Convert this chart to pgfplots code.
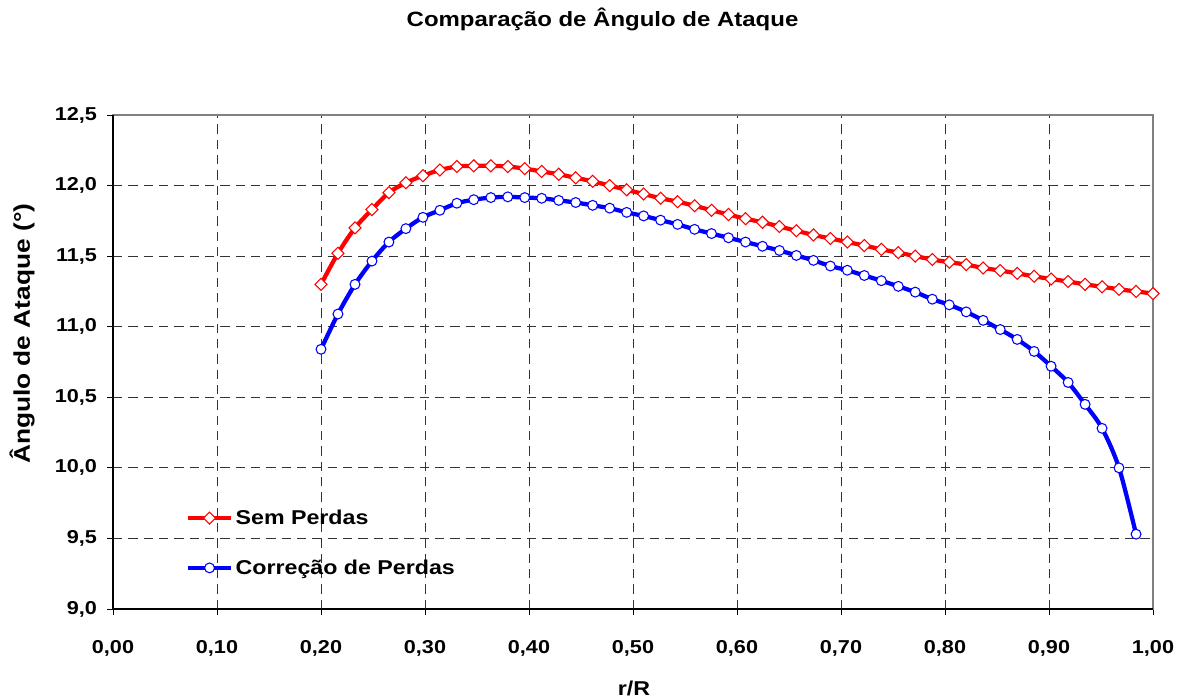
\documentclass[border=0pt]{standalone}
\usepackage{fontspec}
\setmainfont{Liberation Sans}[FakeStretch=1.16]
\usepackage{pgfplots}
\pgfplotsset{compat=1.18}
\definecolor{xred}{RGB}{255,0,0}
\definecolor{xblue}{RGB}{0,0,255}
\begin{document}
\begin{tikzpicture}
\useasboundingbox (0pt,0pt) rectangle (889.5pt,525pt);
\node[anchor=base, font=\bfseries\fontsize{15.5}{18}\selectfont] at (451.9pt,504.75pt) {Comparação de Ângulo de Ataque};
\begin{axis}[
  at={(84.75pt,68.25pt)}, anchor=south west,
  scale only axis, width=780pt, height=370.5pt,
  xmin=0, xmax=1, ymin=9, ymax=12.5,
  clip=false,
  xtick={0,0.1,0.2,0.3,0.4,0.5,0.6,0.7,0.8,0.9,1},
  ytick={9,9.5,10,10.5,11,11.5,12,12.5},
  tick pos=left,
  tick align=outside,
  major tick length=4.5pt,
  tick style={black, line width=0.6pt},
  grid=major,
  major grid style={black!80, line width=0.6pt, dash pattern=on 7pt off 4.5pt},
  axis line style={black!50, line width=0.9pt},
  /pgf/number format/assume math mode=true,
  xticklabel style={font=\bfseries\fontsize{14}{16}\selectfont, anchor=base, yshift=-28.5pt,
    /pgf/number format/.cd, fixed, fixed zerofill, precision=2, use comma},
  yticklabel style={font=\bfseries\fontsize{14}{16}\selectfont, anchor=east, xshift=-4pt,
    /pgf/number format/.cd, fixed, fixed zerofill, precision=1, use comma},
  xlabel={r/R},
  xlabel style={font=\bfseries\fontsize{15}{17}\selectfont, at={(axis description cs:0.501,-0.176)}, anchor=base},
  ylabel={Ângulo de Ataque (°)},
  ylabel style={font=\bfseries\fontsize{17}{19}\selectfont, at={(axis description cs:-0.0875,0.557)}, anchor=center},
  legend style={at={(axis description cs:0.070,0.1336)}, anchor=west, draw=none, fill=none,
    inner sep=0pt, row sep=25pt, font=\bfseries\fontsize{15}{17}\selectfont,
    nodes={inner xsep=2pt, inner ysep=0pt}},
  legend cell align=left,
  legend image code/.code={\draw[mark repeat=2,mark phase=2,#1] plot coordinates {(0pt,0pt)(16pt,0pt)(32pt,0pt)};},
]
\addplot[xred, line width=3.2pt, smooth, mark=square*, mark size=3.2pt,
  mark options={rotate=45, fill=white, draw=xred, line width=0.8pt, solid}] coordinates {
(0.2000,11.30) (0.2163,11.52) (0.2327,11.70) (0.2490,11.83) (0.2653,11.95) (0.2816,12.02) (0.2980,12.07) (0.3143,12.11) (0.3306,12.135) (0.3469,12.14) (0.3633,12.14) (0.3796,12.135) (0.3959,12.12) (0.4122,12.10) (0.4286,12.08) (0.4449,12.055) (0.4612,12.03) (0.4776,12.00) (0.4939,11.97) (0.5102,11.94) (0.5265,11.91) (0.5429,11.886) (0.5592,11.857) (0.5755,11.825) (0.5918,11.795) (0.6082,11.765) (0.6245,11.74) (0.6408,11.71) (0.6571,11.68) (0.6735,11.65) (0.6898,11.625) (0.7061,11.60) (0.7224,11.575) (0.7388,11.548) (0.7551,11.525) (0.7714,11.50) (0.7878,11.476) (0.8041,11.457) (0.8204,11.44) (0.8367,11.416) (0.8531,11.398) (0.8694,11.378) (0.8857,11.357) (0.9020,11.338) (0.9184,11.32) (0.9347,11.30) (0.9510,11.283) (0.9673,11.265) (0.9837,11.25) (1.0000,11.235)
};
\addlegendentry{Sem Perdas}
\addplot[xblue, line width=3.2pt, smooth, mark=*, mark size=3.7pt,
  mark options={fill=white, draw=xblue, line width=0.8pt, solid}] coordinates {
(0.2000,10.84) (0.2163,11.09) (0.2327,11.30) (0.2490,11.465) (0.2653,11.60) (0.2816,11.695) (0.2980,11.775) (0.3143,11.825) (0.3306,11.875) (0.3469,11.90) (0.3633,11.915) (0.3796,11.92) (0.3959,11.915) (0.4122,11.91) (0.4286,11.895) (0.4449,11.88) (0.4612,11.86) (0.4776,11.84) (0.4939,11.81) (0.5102,11.785) (0.5265,11.755) (0.5429,11.725) (0.5592,11.69) (0.5755,11.66) (0.5918,11.63) (0.6082,11.60) (0.6245,11.57) (0.6408,11.54) (0.6571,11.505) (0.6735,11.47) (0.6898,11.43) (0.7061,11.40) (0.7224,11.363) (0.7388,11.326) (0.7551,11.286) (0.7714,11.245) (0.7878,11.195) (0.8041,11.155) (0.8204,11.105) (0.8367,11.045) (0.8531,10.98) (0.8694,10.91) (0.8857,10.825) (0.9020,10.72) (0.9184,10.605) (0.9347,10.45) (0.9510,10.28) (0.9673,10.00) (0.9837,9.53)
};
\addlegendentry{Correção de Perdas}
\draw[black, line width=0.9pt] (rel axis cs:0,1) -- (rel axis cs:0,0) -- (rel axis cs:1,0);
\end{axis}
\end{tikzpicture}
\end{document}
